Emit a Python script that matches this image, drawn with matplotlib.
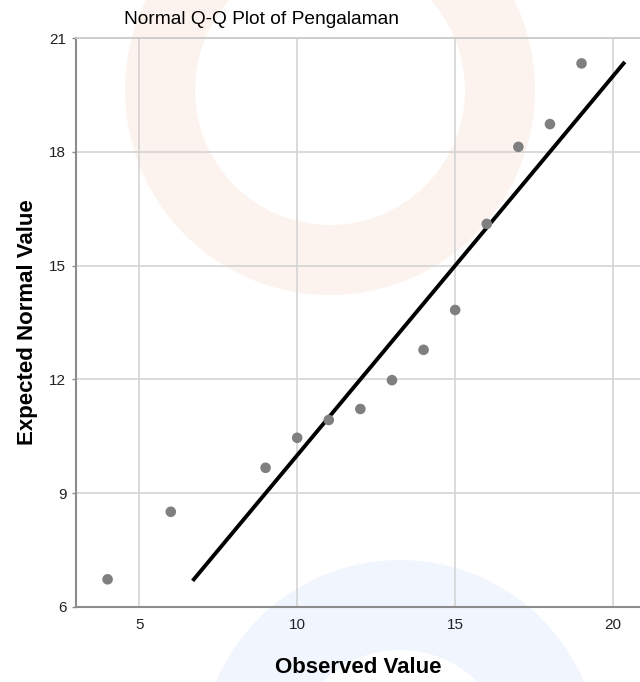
import matplotlib
matplotlib.use("Agg")
import matplotlib.pyplot as plt
from matplotlib.patches import Wedge

plt.rcParams['font.family'] = ['Liberation Sans', 'DejaVu Sans']

observed = [4, 6, 9, 10, 11, 12, 13, 14, 15, 16, 17, 18, 19]
expected = [6.73, 8.51, 9.67, 10.46, 10.93, 11.22, 11.98, 12.78, 13.83, 16.1, 18.13, 18.73, 20.33]
x_ticks = [5, 10, 15, 20]
y_ticks = [6, 9, 12, 15, 18, 21]

fig = plt.figure(figsize=(6.4, 6.82), dpi=100)

# very faint background shapes (watermark)
wm = fig.add_axes([0, 0, 1, 1], zorder=0)
wm.set_xlim(0, 640)
wm.set_ylim(682, 0)
wm.axis('off')
wm.add_patch(Wedge((330, 90), 205, 0, 360, width=70, color='#fdf3ee', lw=0))
wm.add_patch(Wedge((400, 760), 200, 0, 360, width=90, color='#f1f6fe', lw=0))

ax = fig.add_axes([76/640, 1-607/682, 1-76/640, (607-38)/682], zorder=1)
ax.patch.set_alpha(0)

ax.set_xlim(3, 20.85)
ax.set_ylim(6, 21)
ax.set_xticks(x_ticks)
ax.set_yticks(y_ticks)
ax.grid(True, color='#d4d4d4', linewidth=1.2, zorder=0)
ax.set_axisbelow(True)

ax.plot([expected[0], expected[-1]], [expected[0], expected[-1]], color='black', linewidth=2.8, zorder=2)
ax.scatter(observed, expected, s=58, color='#7f7f7f', edgecolors='none', zorder=3)

for side in ['left', 'bottom']:
    ax.spines[side].set_color('#8c8c8c')
    ax.spines[side].set_linewidth(1.5)
ax.spines['top'].set_color('#c8c8c8')
ax.spines['top'].set_linewidth(1.2)
ax.spines['right'].set_visible(False)

ax.tick_params(axis='x', length=0, pad=8, labelsize=11, colors='#222222')
ax.tick_params(axis='y', length=3, width=1, color='#8c8c8c', pad=4, labelsize=11, labelcolor='#222222')

ax.set_xlabel('Observed Value', fontsize=16, fontweight='bold', labelpad=18)
ax.set_ylabel('Expected Normal Value', fontsize=16, fontweight='bold', labelpad=8)
ax.set_title('Normal Q-Q Plot of Pengalaman', fontsize=13.75, pad=10, x=(261-76)/(640-76))

fig.savefig('out.png', dpi=100)
